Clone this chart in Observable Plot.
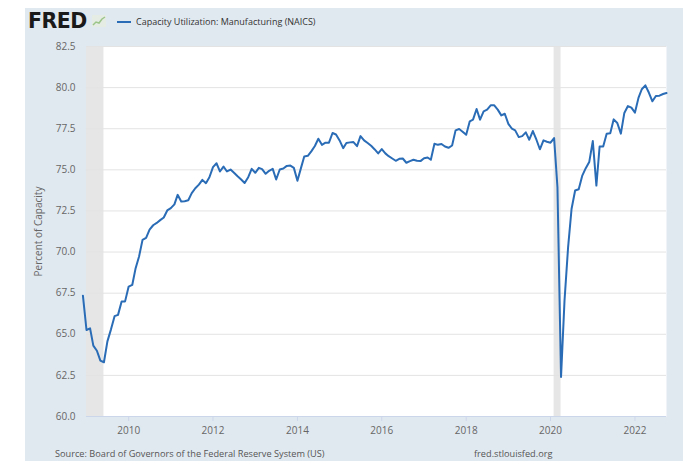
<!DOCTYPE html>
<html><head><meta charset="utf-8">
<script src="https://cdn.jsdelivr.net/npm/d3@7"></script>
<script src="https://cdn.jsdelivr.net/npm/@observablehq/plot@0.6"></script>
<style>
html,body{margin:0;padding:0;background:#fff;width:697px;height:461px;overflow:hidden;font-family:"Open Sans",sans-serif;position:relative}
#panel{position:absolute;left:25px;top:8px;width:658px;height:460px;background:#e1e9f0}
#chart{position:absolute;left:0;top:0}
#logo{position:absolute;left:28px;top:7px;font-family:"DejaVu Sans",sans-serif;font-weight:900;font-size:20.5px;color:#1a1a1a;letter-spacing:-0.5px;line-height:28px}
#logoicon{position:absolute;left:92px;top:15px}
#legend{position:absolute;left:117px;top:15px;font-size:9px;color:#333;line-height:14px;white-space:nowrap}
#legend .sw{display:inline-block;width:14px;height:2px;background:#2a6cb6;vertical-align:middle;margin-right:5px;position:relative;top:-1px}
.cap{position:absolute;top:448px;font-size:9.2px;line-height:12px;color:#555;white-space:nowrap}
</style></head>
<body>
<div id="panel"></div>
<div id="chart"></div>
<div id="logo">FRED</div>
<svg id="logoicon" width="14" height="12"><rect x="0" y="0" width="14" height="12" fill="#e4ece4"/><polyline points="1,10 4,7 7,8 10,4 13,2" fill="none" stroke="#9cc58a" stroke-width="1.5"/></svg>
<div id="legend"><span class="sw"></span>Capacity Utilization: Manufacturing (NAICS)</div>
<div class="cap" style="left:55px">Source: Board of Governors of the Federal Reserve System (US)</div>
<div class="cap" style="left:474px">fred.stlouisfed.org</div>
<script>
const startMonth = "2008-12-01";
const v2008 = [67.35];
const v2009 = [65.26, 65.36, 64.31, 64.0, 63.4, 63.3, 64.57, 65.3, 66.1, 66.18, 66.99, 67.0];
const v2010 = [67.9, 68.0, 68.98, 69.73, 70.74, 70.86, 71.37, 71.63, 71.77, 71.94, 72.1, 72.53];
const v2011 = [72.67, 72.9, 73.48, 73.07, 73.09, 73.15, 73.58, 73.88, 74.1, 74.39, 74.19, 74.55];
const v2012 = [75.16, 75.4, 74.9, 75.2, 74.9, 75.02, 74.82, 74.61, 74.41, 74.2, 74.55, 75.06];
const v2013 = [74.82, 75.12, 75.04, 74.76, 74.94, 75.06, 74.41, 75.02, 75.08, 75.24, 75.26, 75.12];
const v2014 = [74.33, 75.12, 75.81, 75.85, 76.12, 76.45, 76.89, 76.52, 76.65, 76.65, 77.24, 77.15];
const v2015 = [76.79, 76.32, 76.63, 76.67, 76.69, 76.44, 77.05, 76.79, 76.63, 76.46, 76.24, 76.0];
const v2016 = [76.26, 76.0, 75.83, 75.69, 75.55, 75.67, 75.69, 75.43, 75.53, 75.61, 75.55, 75.53];
const v2017 = [75.71, 75.75, 75.61, 76.59, 76.52, 76.57, 76.42, 76.34, 76.48, 77.4, 77.48, 77.32];
const v2018 = [77.13, 77.95, 78.05, 78.7, 78.05, 78.56, 78.66, 78.92, 78.92, 78.66, 78.31, 78.41];
const v2019 = [77.8, 77.5, 77.4, 76.99, 77.05, 77.28, 76.83, 77.36, 76.83, 76.25, 76.79, 76.71];
const v2020 = [76.65, 76.93, 73.94, 62.4, 67.03, 70.28, 72.62, 73.74, 73.82, 74.63, 75.1, 75.47];
const v2021 = [76.75, 74.04, 76.42, 76.42, 77.2, 77.22, 78.07, 77.85, 77.2, 78.46, 78.88, 78.78];
const v2022 = [78.48, 79.39, 79.9, 80.14, 79.7, 79.17, 79.49, 79.51, 79.61, 79.67];
const recessionStarts = ["2007-12-01", "2020-02-01"];
const recessionEnds = ["2009-06-01", "2020-04-01"];
const xTickYears = ["2010", "2012", "2014", "2016", "2018", "2020", "2022"];
const yTicks = [60, 62.5, 65, 67.5, 70, 72.5, 75, 77.5, 80, 82.5];

const values = [].concat(v2008, v2009, v2010, v2011, v2012, v2013, v2014, v2015, v2016, v2017, v2018, v2019, v2020, v2021, v2022);
const start = new Date(startMonth);
const data = values.map((v, i) => ({date: d3.utcMonth.offset(start, i), value: v}));
const recessions = recessionStarts.map((s, i) => ({start: new Date(s), end: new Date(recessionEnds[i])}));
const xTicks = xTickYears.map(y => new Date(y + "-01-01"));

const chart = Plot.plot({
  width: 697, height: 461,
  marginLeft: 86, marginRight: 31, marginTop: 46, marginBottom: 45,
  style: {background: "transparent", fontFamily: "Open Sans, sans-serif", fontSize: "10px"},
  x: {type: "utc", domain: [new Date("2009-01-01"), new Date("2022-10-01")]},
  y: {domain: [60, 82.5]},
  marks: [
    Plot.frame({fill: "white", stroke: "none"}),
    Plot.rect(recessions, {x1: "start", x2: "end", fill: "#e6e6e6", clip: true}),
    Plot.gridY(yTicks, {stroke: "#e3e3e3", strokeOpacity: 1, strokeWidth: 1}),
    Plot.ruleY([60], {stroke: "#ccd6eb", strokeWidth: 1}),
    Plot.axisY(yTicks, {tickSize: 0, tickPadding: 11, tickFormat: d => d.toFixed(1), fill: "#666", fontSize: 10,
      label: "Percent of Capacity", labelAnchor: "center", labelArrow: "none", labelOffset: 52}),
    Plot.axisX(xTicks, {tickSize: 5, tickPadding: 5, stroke: "#ccd6eb", strokeOpacity: 1, fill: "#666", fontSize: 10, tickFormat: d3.utcFormat("%Y"), label: null}),
    Plot.line(data, {x: "date", y: "value", stroke: "#2a6cb6", strokeWidth: 2})
  ]
});
document.getElementById("chart").appendChild(chart);
</script>
</body></html>
